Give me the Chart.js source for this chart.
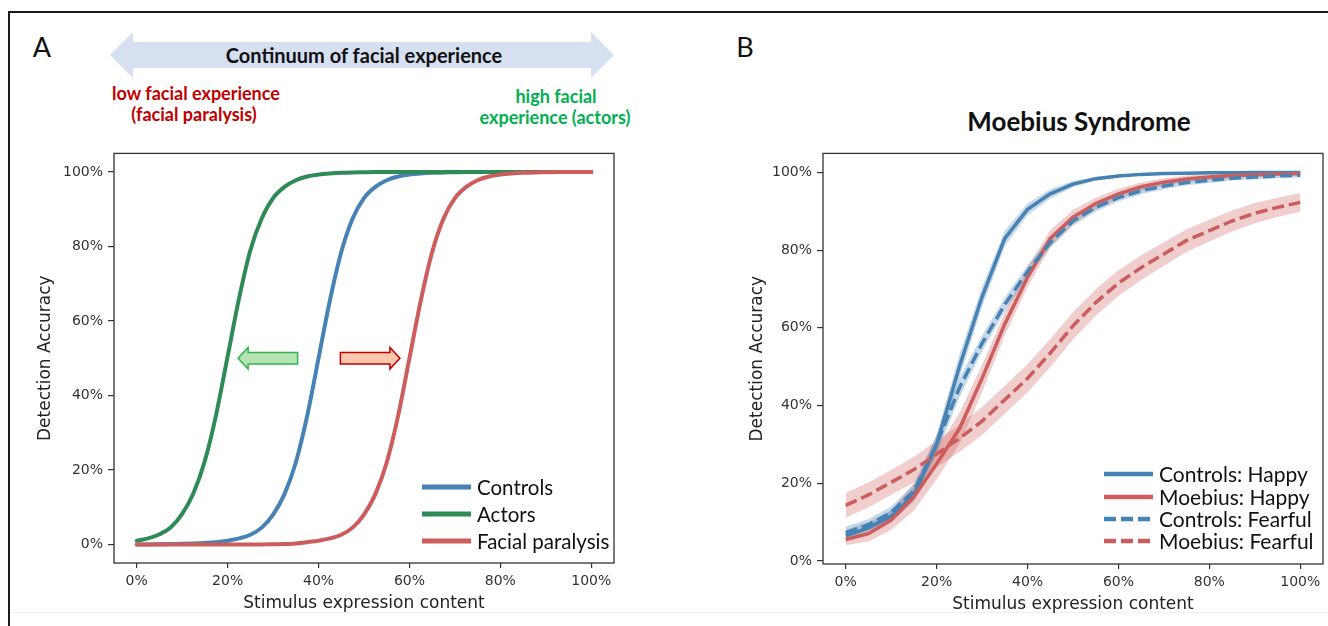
<!DOCTYPE html>
<html>
<head>
<meta charset="utf-8">
<script src="https://cdn.jsdelivr.net/npm/chart.js@4.4.1/dist/chart.umd.min.js"></script>
<style>
  html, body { margin: 0; padding: 0; background: #fff; }
  #fig { position: relative; width: 1328px; height: 626px; overflow: hidden; background: #fff; }
  .t { position: absolute; white-space: nowrap; line-height: 1; transform: translate(-50%, -50%); }
  .hdr { font-family: Lato, "Open Sans", sans-serif; font-weight: 700; }
  canvas { position: absolute; }
</style>
</head>
<body>
<div id="fig">
  <div style="position:absolute;left:8px;top:11px;width:1320px;height:2px;background:#1a1a1a"></div>
  <div style="position:absolute;left:8px;top:11px;width:2px;height:615px;background:#1a1a1a"></div>
  <div style="position:absolute;left:10px;top:612px;width:1318px;height:1px;background:#efefef"></div>

  <svg style="position:absolute;left:0;top:0" width="700" height="130">
    <polygon points="110,55 133,32 133,42 591,42 591,32 614,55 591,78 591,68 133,68 133,78" fill="#d7e0f1"/>
  </svg>

  <div class="t" style="left:42px;top:46px;font-family:Lato,'Open Sans',sans-serif;font-size:27px;color:#111">A</div>
  <div class="t" style="left:745px;top:46px;font-family:Lato,'Open Sans',sans-serif;font-size:27px;color:#111">B</div>

  <div class="t hdr" style="left:364px;top:55px;font-size:20px;color:#111">Continuum of facial experience</div>
  <div class="t hdr" style="left:196px;top:93px;font-size:18px;color:#c00000">low facial experience</div>
  <div class="t hdr" style="left:194px;top:114px;font-size:18px;color:#c00000">(facial paralysis)</div>
  <div class="t hdr" style="left:556px;top:96px;font-size:18px;color:#00b050">high facial</div>
  <div class="t hdr" style="left:555px;top:117px;font-size:18px;color:#00b050">experience (actors)</div>
  <div class="t hdr" style="left:1079px;top:121px;font-size:26px;color:#111">Moebius Syndrome</div>

  <canvas id="cA" width="640" height="486" style="left:0px;top:140px;width:640px;height:486px"></canvas>
  <canvas id="cB" width="628" height="486" style="left:700px;top:140px;width:628px;height:486px"></canvas>
</div>

<script>
// ---------------- Panel A data ----------------
const xA = [0,2.5,5,7.5,10,12.5,15,17.5,20,22.5,25,27.5,30,32.5,35,37.5,40,42.5,45,47.5,50,
            52.5,55,57.5,60,62.5,65,67.5,70,72.5,75,77.5,80,82.5,85,87.5,90,92.5,95,97.5,100];
const controlsA = [0,0,0.05,0.1,0.15,0.25,0.4,0.6,
                   1.0,1.6,2.6,4.5,8,13.5,22,34.5,50,65.5,78.5,87.5,93,96,97.8,98.8,99.3,99.6,99.8,99.9,99.95,
                   100,100,100,100,100,100,100,100,100,100,100,100];
const actorsA = [1.0,1.6,2.7,4.6,8.2,13.8,22.5,35,50.5,66,79,87.5,93,96,97.8,98.8,99.3,99.6,99.8,99.9,99.95,
                 100,100,100,100,100,100,100,100,100,100,100,100,100,100,100,100,100,100,100,100];
const paralysisA = [0,0,0,0,0,0,0,0,0,0,0,0,
                    0.05,0.1,0.25,0.6,1.0,1.6,2.6,4.5,8,13.5,22,34.5,50,65.5,78.5,87.5,93,96,97.8,98.8,99.3,99.6,99.8,99.9,99.95,
                    100,100,100,100];
const seriesNamesA = ['Controls', 'Actors', 'Facial paralysis'];

// ---------------- Panel B data ----------------
const xB = [0,5,10,15,20,25,30,35,40,45,50,55,60,65,70,75,80,85,90,95,100];
const ctrlHappy    = [6.5,8.5,11.5,17,30,50,68,83,90.5,94.5,97,98.4,99.1,99.5,99.7,99.8,99.9,99.9,100,100,100];
const ctrlHappyErr = [1.5,1.5,1.5,1.8,2.5,3,2.5,2,1.5,1.2,0.8,0.5,0.4,0.3,0.3,0.2,0.2,0.2,0.2,0.2,0.2];
const mobHappy     = [5.5,7,10.5,16.5,25,34,47,61,73,83,88.5,92,94.5,96.3,97.5,98.3,98.8,99.2,99.4,99.6,99.7];
const mobHappyErr  = [1.5,2,2.5,3.5,4,4,3.5,3,2.5,2.2,1.8,1.5,1.3,1.1,1,0.9,0.8,0.7,0.6,0.6,0.5];
const ctrlFear     = [7.3,9.3,12.5,18,30,44.5,56,66,74.5,82,87.5,91,93.5,95.3,96.5,97.4,98,98.5,98.8,99.1,99.3];
const ctrlFearErr  = [1.5,1.5,1.5,1.8,2.5,2.5,2,1.8,1.6,1.4,1.2,1.1,1,0.9,0.8,0.7,0.7,0.6,0.6,0.6,0.6];
const mobFear      = [14.3,17,20.2,23.5,27.5,31.5,36,41.5,47,53.5,60.5,66.5,71.5,75.5,79,82.5,85,87.5,89.5,91,92.3];
const mobFearErr   = [3.2,3.2,3.2,3.3,3.4,3.5,3.6,3.6,3.6,3.6,3.5,3.4,3.3,3.2,3.0,2.9,2.8,2.7,2.6,2.5,2.4];
const seriesNamesB = ['Controls: Happy', 'Moebius: Happy', 'Controls: Fearful', 'Moebius: Fearful'];

// ---------------- Shared ----------------
const tickPct = [0,20,40,60,80,100];
const xTitle = 'Stimulus expression content';
const yTitle = 'Detection Accuracy';

const BLUE = '#4682B4', GREEN = '#2E8B57', RED = '#CD5C5C';
const BLUE_BAND = 'rgba(70,130,180,0.30)', RED_BAND = 'rgba(205,92,92,0.30)';

Chart.defaults.devicePixelRatio = 1;

const toPts = (xs, ys) => xs.map((x, i) => ({x: x, y: ys[i]}));

const framePlugin = {
  id: 'frame',
  afterDraw(chart) {
    const {ctx, chartArea: a} = chart;
    ctx.save();
    ctx.strokeStyle = '#333';
    ctx.lineWidth = 1.3;
    ctx.strokeRect(a.left, a.top, a.right - a.left, a.bottom - a.top);
    ctx.restore();
  }
};

const legendPlugin = {
  id: 'customLegend',
  afterDraw(chart, args, opts) {
    if (!opts || !opts.rows) return;
    const {ctx, chartArea: a} = chart;
    const items = chart.data.datasets.filter(d => d.inLegend);
    ctx.save();
    ctx.font = opts.font;
    ctx.textBaseline = 'middle';
    ctx.textAlign = 'left';
    items.forEach((d, i) => {
      const y = a.bottom - opts.rows[i];
      const x0 = a.right - opts.fromRight;
      ctx.strokeStyle = d.borderColor;
      ctx.lineWidth = opts.handleWidth;
      ctx.setLineDash(d.borderDash ? Array.from(d.borderDash) : []);
      ctx.beginPath();
      ctx.moveTo(x0, y);
      ctx.lineTo(x0 + opts.handleLen, y);
      ctx.stroke();
      ctx.setLineDash([]);
      ctx.fillStyle = '#111';
      ctx.fillText(d.label, x0 + opts.handleLen + opts.gap, y + 1);
    });
    ctx.restore();
  }
};

const arrowPlugin = {
  id: 'shiftArrows',
  afterDatasetsDraw(chart, args, opts) {
    if (!opts || !opts.items) return;
    const xs = chart.scales.x, ys = chart.scales.y, ctx = chart.ctx;
    for (let k = 0; k < opts.items.length; k++) {
      const it = opts.items[k];
      const xf = xs.getPixelForValue(it.from), xt = xs.getPixelForValue(it.to);
      const yc = ys.getPixelForValue(it.y);
      const dir = Math.sign(xt - xf);
      const hb = xt - dir * opts.head;
      ctx.save();
      ctx.beginPath();
      ctx.moveTo(xf, yc - opts.shaft);
      ctx.lineTo(hb, yc - opts.shaft);
      ctx.lineTo(hb, yc - opts.wing);
      ctx.lineTo(xt, yc);
      ctx.lineTo(hb, yc + opts.wing);
      ctx.lineTo(hb, yc + opts.shaft);
      ctx.lineTo(xf, yc + opts.shaft);
      ctx.closePath();
      ctx.fillStyle = it.fill;
      ctx.fill();
      ctx.lineWidth = 1.5;
      ctx.strokeStyle = it.stroke;
      ctx.stroke();
      ctx.restore();
    }
  }
};

function makeScales(cfg) {
  const tickFont = {family: 'DejaVu Sans', size: 14};
  const titleFont = {family: 'DejaVu Sans', size: 17};
  return {
    x: {
      type: 'linear', min: cfg.xmin, max: cfg.xmax,
      afterBuildTicks: s => { s.ticks = tickPct.map(v => ({value: v})); },
      afterFit: s => { s.height = cfg.xH; },
      ticks: {callback: v => v + '%', font: tickFont, color: '#333', padding: 5, maxRotation: 0, autoSkip: false},
      grid: {drawOnChartArea: false, drawTicks: true, tickLength: 5, color: '#333', lineWidth: 1.2},
      border: {display: false},
      title: {display: true, text: xTitle, font: titleFont, color: '#222', padding: {top: 0, bottom: cfg.xTitlePad}}
    },
    y: {
      type: 'linear', min: cfg.ymin, max: cfg.ymax,
      afterBuildTicks: s => { s.ticks = tickPct.map(v => ({value: v})); },
      afterFit: s => { s.width = cfg.yW; },
      ticks: {callback: v => v + '%', font: tickFont, color: '#333', padding: 5, autoSkip: false},
      grid: {drawOnChartArea: false, drawTicks: true, tickLength: 6, color: '#333', lineWidth: 1.2},
      border: {display: false},
      title: {display: true, text: yTitle, font: titleFont, color: '#222', padding: {top: cfg.yTitlePad, bottom: 0}}
    }
  };
}

// ---------------- Chart A ----------------
const lineA = (label, ys, color, order) => ({
  label: label, data: toPts(xA, ys), borderColor: color, backgroundColor: color,
  borderWidth: 4, pointRadius: 0, fill: false, cubicInterpolationMode: 'monotone',
  order: order, inLegend: true, borderCapStyle: 'round'
});

new Chart(document.getElementById('cA'), {
  type: 'line',
  data: {
    datasets: [
      lineA(seriesNamesA[0], controlsA, BLUE, 3),
      lineA(seriesNamesA[1], actorsA, GREEN, 2),
      lineA(seriesNamesA[2], paralysisA, RED, 1)
    ]
  },
  options: {
    responsive: false, animation: false,
    layout: {padding: {left: 0, right: 26, top: 10, bottom: 0}},
    scales: makeScales({xmin: -5, xmax: 105, ymin: -5, ymax: 105, xH: 63, yW: 114, xTitlePad: 12, yTitlePad: 35}),
    plugins: {
      legend: {display: false}, tooltip: {enabled: false},
      customLegend: {rows: [76, 49, 22], fromRight: 192, handleLen: 49, gap: 6, handleWidth: 5,
                     font: '20.5px Lato, "Open Sans", sans-serif'},
      shiftArrows: {head: 10, shaft: 5.8, wing: 10.8, items: [
        {from: 35.4, to: 22.3, y: 50, fill: 'rgba(170,222,165,0.85)', stroke: '#2fb552'},
        {from: 44.8, to: 57.9, y: 50, fill: 'rgba(248,196,170,0.95)', stroke: '#c00000'}
      ]}
    }
  },
  plugins: [framePlugin, legendPlugin, arrowPlugin]
});

// ---------------- Chart B ----------------
const lineB = (label, ys, color, dash, order) => ({
  label: label, data: toPts(xB, ys), borderColor: color, backgroundColor: color,
  borderWidth: 3.5, pointRadius: 0, fill: false, tension: 0, borderDash: dash,
  order: order, inLegend: true
});
const bandB = (ys, err, color, order) => ([
  {data: toPts(xB, ys.map((v, i) => v + err[i])), borderWidth: 0, borderColor: 'rgba(0,0,0,0)',
   backgroundColor: color, pointRadius: 0, fill: '+1', tension: 0, order: order},
  {data: toPts(xB, ys.map((v, i) => v - err[i])), borderWidth: 0, borderColor: 'rgba(0,0,0,0)',
   backgroundColor: color, pointRadius: 0, fill: false, tension: 0, order: order}
]);

new Chart(document.getElementById('cB'), {
  type: 'line',
  data: {
    datasets: [
      lineB(seriesNamesB[0], ctrlHappy, BLUE, [], 4),
      lineB(seriesNamesB[1], mobHappy, RED, [], 3),
      lineB(seriesNamesB[2], ctrlFear, BLUE, [12, 5], 2),
      lineB(seriesNamesB[3], mobFear, RED, [12, 5], 1),
      ...bandB(ctrlHappy, ctrlHappyErr, BLUE_BAND, 14),
      ...bandB(mobHappy, mobHappyErr, RED_BAND, 13),
      ...bandB(ctrlFear, ctrlFearErr, BLUE_BAND, 12),
      ...bandB(mobFear, mobFearErr, RED_BAND, 11)
    ]
  },
  options: {
    responsive: false, animation: false,
    layout: {padding: {left: 0, right: 5, top: 13, bottom: 0}},
    scales: makeScales({xmin: -5, xmax: 105, ymin: -0.8, ymax: 104.9, xH: 62, yW: 123, xTitlePad: 11, yTitlePad: 47}),
    plugins: {
      legend: {display: false}, tooltip: {enabled: false},
      customLegend: {rows: [90, 67, 45, 23], fromRight: 219, handleLen: 49, gap: 6, handleWidth: 4.5,
                     font: '21px Lato, "Open Sans", sans-serif'}
    }
  },
  plugins: [framePlugin, legendPlugin]
});
</script>
</body>
</html>
